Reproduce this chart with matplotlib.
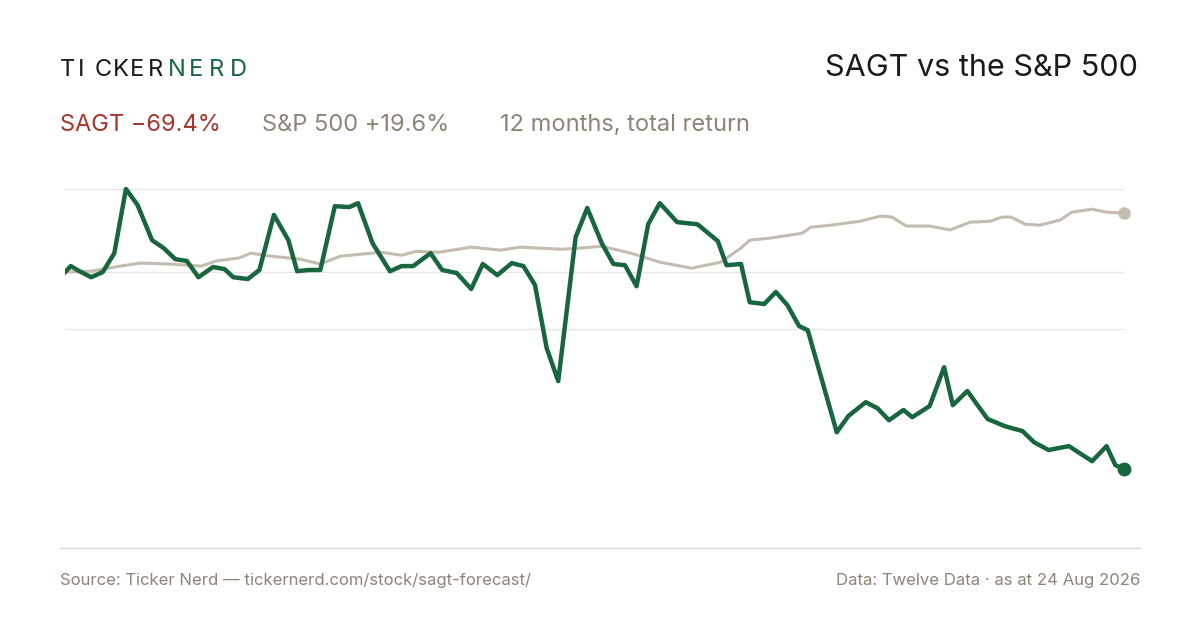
import matplotlib.pyplot as plt

plt.rcParams['font.family'] = ['Inter', 'DejaVu Sans']

# days since start, cumulative total return (%)
sagt_days = [0, 2, 5, 9, 13, 17, 21, 25, 30, 34, 38, 42, 46, 51, 55, 58, 63, 67, 72, 77,
             80, 84, 88, 93, 98, 101, 106, 112, 116, 120, 126, 130, 135, 140, 144, 149,
             154, 158, 162, 166, 170, 176, 180, 185, 189, 193, 197, 201, 205, 211, 218,
             225, 228, 233, 236, 241, 245, 249, 253, 256, 266, 270, 276, 280, 284, 289,
             292, 298, 303, 306, 311, 318, 324, 330, 334, 339, 346, 354, 359, 362, 365]
sagt_ret = [0, 2.0, 0.3, -1.7, 0, 6.3, 27.6, 22.3, 10.6, 8.0, 4.3, 3.7, -1.7, 1.7, 1.0,
            -1.7, -2.3, 0.7, 19.0, 10.6, 0.3, 0.7, 0.7, 21.9, 21.6, 22.9, 9.6, 0.3, 2.0,
            2.0, 6.3, 0.7, -0.3, -5.6, 2.7, -1.0, 3.0, 2.0, -4.3, -25.2, -36.2, 11.6,
            21.3, 9.6, 2.7, 2.3, -4.7, 15.9, 22.9, 16.6, 15.9, 10.3, 2.3, 2.7, -10.0,
            -10.6, -6.6, -11.0, -17.9, -19.3, -53.2, -47.8, -43.2, -45.2, -49.2, -45.8,
            -48.2, -44.5, -31.6, -44.2, -39.5, -48.8, -51.2, -52.8, -56.5, -59.1, -57.8,
            -62.8, -57.8, -64.1, -65.4]

spx_days = [0, 9, 19, 26, 36, 47, 52, 60, 64, 71, 81, 88, 95, 109, 116, 121, 129, 140,
            150, 157, 171, 178, 185, 195, 205, 216, 226, 233, 236, 243, 254, 257, 264,
            274, 281, 285, 290, 298, 305, 312, 319, 323, 326, 331, 336, 343, 347, 354,
            359, 365]
spx_ret = [0, 0.3, 2.0, 3.0, 2.7, 2.0, 3.7, 4.7, 6.3, 5.3, 4.3, 2.7, 5.3, 6.6, 5.6, 6.9,
           6.6, 8.3, 7.3, 8.3, 7.6, 8.0, 8.6, 6.3, 3.3, 1.3, 3.3, 8.0, 10.6, 11.3, 12.9,
           14.9, 15.6, 16.9, 18.6, 18.3, 15.3, 15.3, 14.0, 16.6, 16.9, 18.3, 18.3, 15.9,
           15.6, 17.3, 19.9, 20.9, 19.9, 19.6]

grid_levels = [27.6, 0, -19]

green = '#17663d'
grey = '#c4bcb1'
txt_grey = '#8c8577'

fig = plt.figure(figsize=(12, 6.3), dpi=100)
ax = fig.add_axes([65 / 1200, 1 - 500 / 630, (1124 - 65) / 1200, 320 / 630])
ax.set_xlim(0, 365)
ax.set_ylim(-75.7, 30.6)
for g in grid_levels:
    ax.axhline(g, color='#e6e6e6', lw=1, zorder=0)
ax.plot(spx_days, spx_ret, color=grey, lw=2.2, zorder=2)
ax.plot(sagt_days, sagt_ret, color=green, lw=3.2, zorder=3, solid_joinstyle='round')
ax.plot(spx_days[-1], spx_ret[-1], 'o', color=grey, ms=8, zorder=4, clip_on=False)
ax.plot(sagt_days[-1], sagt_ret[-1], 'o', color=green, ms=9, zorder=4, clip_on=False)
ax.axis('off')

# logo, letter-spaced
for i, ch in enumerate('TICKER'):
    fig.text((60 + i * 17.5) / 1200, 1 - 70 / 630, ch, fontsize=17, color='#1a1a1a',
             va='center', ha='left')
for i, ch in enumerate('NERD'):
    fig.text((168 + i * 20.5) / 1200, 1 - 70 / 630, ch, fontsize=17, color=green,
             va='center', ha='left')

fig.text(1138 / 1200, 1 - 68 / 630, 'SAGT vs the S&P 500', fontsize=22, color='#1a1a1a',
         ha='right', va='center')
fig.text(60 / 1200, 1 - 125 / 630, 'SAGT \u221269.4%', fontsize=17, color='#a8342a', va='center')
fig.text(262 / 1200, 1 - 125 / 630, 'S&P 500 +19.6%', fontsize=17, color=txt_grey, va='center')
fig.text(500 / 1200, 1 - 125 / 630, '12 months, total return', fontsize=17, color=txt_grey,
         va='center')

fig.add_artist(plt.Line2D([60 / 1200, 1140 / 1200], [1 - 548 / 630] * 2, color='#dcd8cf', lw=1))
fig.text(60 / 1200, 1 - 580 / 630, 'Source: Ticker Nerd \u2014 tickernerd.com/stock/sagt-forecast/',
         fontsize=12, color=txt_grey, va='center')
fig.text(1140 / 1200, 1 - 580 / 630, 'Data: Twelve Data \u00b7 as at 24 Aug 2026', fontsize=12,
         color=txt_grey, va='center', ha='right')

fig.savefig('out.png', dpi=100, facecolor='white')
